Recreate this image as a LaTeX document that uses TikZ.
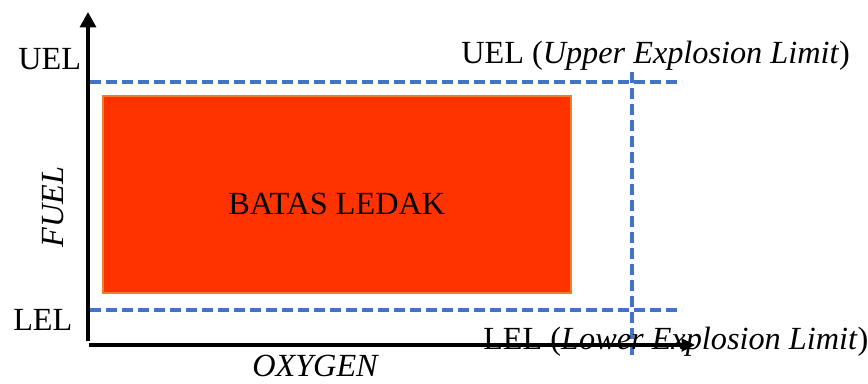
\documentclass[tikz,border=0pt]{standalone}
\usepackage{fontspec}
\setmainfont{Liberation Serif}
\usetikzlibrary{arrows.meta}
\definecolor{limitblue}{HTML}{4472C4}
\definecolor{zonered}{HTML}{FF3300}
\definecolor{zoneedge}{HTML}{ED7D31}
\begin{document}
\begin{tikzpicture}[x=0.75pt,y=-0.75pt,
  lbl/.style={inner sep=0pt,font=\fontsize{24.2}{28}\selectfont},
  axisline/.style={line width=2.3pt},
  limitline/.style={limitblue,line width=3pt,dash pattern=on 8.5pt off 3.5pt}]
\useasboundingbox (0,0) rectangle (868,383);
% axes
\coordinate (yo) at (88,341);
\coordinate (ytop) at (88,12);
\coordinate (xo) at (89,345);
\coordinate (xend) at (695,345);
% explosive zone
\node[fill=zonered,draw=zoneedge,line width=0.8pt,inner sep=0pt,
      minimum width=468*0.75pt,minimum height=197*0.75pt] (zone) at (337,194.5) {};
\node[lbl,anchor=base west] (zonetxt) at (228,214) {BATAS LEDAK};
% limit lines
\coordinate (uelL) at (90,82);
\coordinate (uelR) at (682,82);
\coordinate (lelL) at (90,310);
\coordinate (lelR) at (682,310);
\coordinate (vT) at (632,72);
\coordinate (vB) at (632,356);
\draw[limitline] (uelL) -- (uelR);
\draw[limitline] (lelL) -- (lelR);
\draw[limitline] (vT) -- (vB);
% labels
\node[lbl,anchor=base west] (uel) at (18,69) {UEL};
\node[lbl,anchor=base west] (lel) at (13,330) {LEL};
\node[lbl,anchor=base west] (ueltxt) at (461,63) {UEL (\textit{Upper Explosion Limit})};
\node[lbl,anchor=base west] (leltxt) at (483,349) {LEL (\textit{Lower Explosion Limit})};
\node[lbl,anchor=base west] (oxy) at (252,376) {\textit{OXYGEN}};
\node[lbl,anchor=base,rotate=90] (fuel) at (63,207) {\textit{FUEL}};
\draw[axisline,-{Triangle[length=11.5pt,width=12pt]}] (yo) -- (ytop);
\draw[axisline,-{Triangle[length=10pt,width=9.5pt]}] (xo) -- (xend);
\end{tikzpicture}
\end{document}
